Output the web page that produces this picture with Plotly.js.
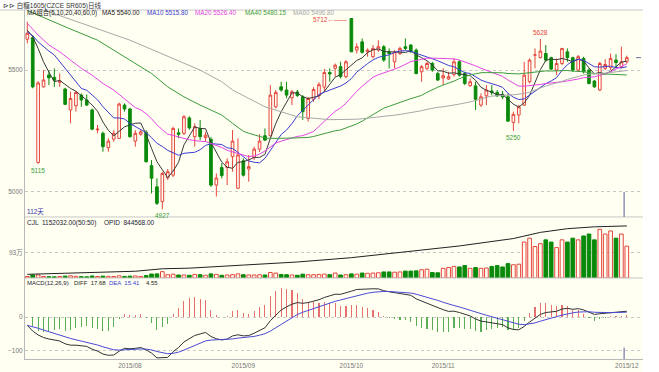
<!DOCTYPE html>
<html><head><meta charset="utf-8">
<script src="https://cdn.plot.ly/plotly-3.0.1.min.js"></script>
<style>html,body{margin:0;padding:0;background:#fff;} #chart{width:659px;height:372px;}</style>
</head><body><div id="chart"></div>
<script>
// ---------- data ----------
const openP  = [5627,5633,5120,5431,5480,5470,5450,5422,5336,5353,5397,5377,5336,5254,5240,5181,5216,5219,5356,5340,
                5208,5236,5244,5107,5020,4959,5057,5068,5242,5240,5303,5226,5260,5222,5215,5027,5099,5099,5144,5014,
                5127,5093,5140,5175,5230,5230,5349,5431,5418,5386,5410,5390,5301,5380,5395,5430,5490,5507,5514,5473,
                5712,5582,5616,5575,5555,5582,5596,5575,5534,5568,5596,5603,5582,5493,5507,5527,5486,5468,5463,5482,
                5534,5486,5436,5435,5356,5394,5414,5408,5400,5390,5285,5315,5356,5452,5562,5551,5568,5551,5500,5527,
                5575,5551,5500,5548,5500,5455,5418,5507,5510,5541,5514,5534];
const highP  = [5699,5644,5455,5500,5500,5507,5486,5427,5411,5414,5404,5400,5342,5274,5247,5219,5253,5366,5363,5345,
                5253,5253,5253,5130,5055,5082,5093,5267,5260,5315,5310,5281,5295,5245,5225,5075,5117,5137,5253,5219,
                5137,5151,5185,5236,5260,5438,5418,5452,5452,5418,5418,5397,5390,5430,5450,5505,5507,5527,5534,5541,
                5712,5610,5630,5589,5603,5623,5603,5589,5582,5596,5630,5606,5589,5520,5534,5534,5493,5507,5493,5548,
                5541,5493,5466,5452,5404,5438,5438,5418,5414,5404,5329,5356,5534,5548,5589,5628,5603,5555,5548,5589,
                5589,5555,5562,5555,5507,5459,5534,5545,5568,5565,5596,5559];
const lowP   = [5610,5425,5115,5428,5438,5431,5431,5356,5281,5329,5349,5353,5253,5240,5164,5164,5205,5216,5329,5222,
                5185,5230,5120,4993,4945,4927,5048,5060,5220,5233,5255,5185,5212,5205,5020,4980,5055,5027,5082,5011,
                5062,5041,5130,5164,5208,5226,5342,5411,5384,5356,5390,5295,5288,5370,5380,5410,5452,5473,5466,5466,
                5575,5568,5568,5555,5548,5575,5534,5507,5507,5562,5582,5572,5482,5452,5500,5493,5455,5438,5459,5473,
                5473,5438,5431,5336,5349,5356,5397,5390,5380,5288,5250,5281,5353,5445,5507,5548,5534,5500,5480,5520,
                5534,5493,5493,5486,5441,5427,5414,5500,5500,5507,5507,5527];
const closeP = [5651,5431,5447,5459,5468,5458,5455,5359,5383,5408,5377,5356,5257,5257,5185,5208,5240,5360,5340,5226,
                5240,5246,5123,5055,4952,5075,5082,5260,5236,5308,5262,5267,5226,5232,5027,5056,5066,5123,5208,5151,
                5068,5103,5175,5208,5212,5397,5408,5418,5397,5411,5395,5329,5383,5420,5440,5490,5484,5520,5473,5534,
                5575,5596,5573,5582,5589,5596,5541,5568,5575,5589,5589,5575,5486,5514,5527,5500,5459,5477,5473,5534,
                5479,5445,5452,5380,5390,5418,5407,5394,5390,5290,5318,5349,5479,5541,5562,5578,5541,5504,5527,5589,
                5551,5500,5555,5493,5445,5431,5527,5523,5548,5531,5534,5551];
const volume = [55000,110000,110000,55000,50000,45000,55000,70000,80000,60000,50000,45000,75000,55000,70000,60000,55000,80000,60000,
                70000,75000,55000,90000,145000,150000,230000,120000,140000,110000,110000,100000,130000,120000,100000,150000,130000,100000,110000,120000,150000,
                120000,110000,110000,120000,110000,200000,180000,130000,120000,110000,100000,140000,120000,120000,130000,140000,
                120000,180000,110000,120000,150000,140000,180000,170000,180000,190000,220000,220000,210000,220000,250000,250000,260000,300000,320000,200000,190000,
                350000,380000,420000,400000,450000,350000,380000,350000,360000,420000,450000,400000,520000,480000,500000,
                1300000,1440000,1140000,1240000,1380000,1300000,1100000,1380000,1300000,1440000,1380000,1520000,1590000,1380000,1760000,1590000,1700000,1440000,1590000,1152032];
const opidIdx = [0,10,20,25,30,40,50,60,70,80,90,95,100,105,111];
const opidVal = [60000,80000,110000,150000,160000,210000,260000,330000,420000,520000,640000,740000,800000,830000,844568];

// moving averages whose window starts before the first visible day
const ma5EarlyIdx  = [0,1,2,3];
const ma5EarlyVal  = [5664,5637,5589,5534];
const ma10EarlyIdx = [0,1,2,3,4,5,6,7,8];
const ma10EarlyVal = [5657,5641,5616,5596,5578,5562,5534,5507,5479];
const ma20EarlyIdx = [0,2,4,6,8,10,12,14,16,18];
const ma20EarlyVal = [5692,5644,5603,5575,5541,5507,5479,5445,5418,5383];
const ma40EarlyIdx = [0,4,7,13,19,23,26,29,32,36,38];
const ma40EarlyVal = [5745,5705,5678,5623,5541,5486,5431,5390,5356,5315,5281];
const ma60EarlyIdx = [0,4,10,19,26,32,36,38,44,50,56];
const ma60EarlyVal = [5770,5740,5693,5623,5555,5500,5452,5418,5349,5308,5296];
// MACD state before the first visible day (DIFF/DEA start near -25)
const macdSeed = {ema12: 5672, ema26: 5697, dea: -25};

const monthLabels = ["2015/08","2015/09","2015/10","2015/11","2015/12"];
const monthIdx    = [19, 40, 60, 77, 111];
const maNames  = ["MA5","MA10","MA20","MA40","MA60"];
const maPeriods = [5,10,20,40,60];
const maLegendValues = ["5540.00","5515.80","5526.40","5480.15","5496.80"];
const markIdx  = [2, 25, 60, 90, 95];
const markType = ["low","low","high","low","high"];

// ---------- derived ----------
const N = closeP.length;
const idx = closeP.map((_, i) => i);
function movingAverage(n, eIdx, eVal) {
  const xs = eIdx.slice(), ys = eVal.slice();
  for (let i = n - 1; i < N; i++) {
    let s = 0; for (let k = i - n + 1; k <= i; k++) s += closeP[k];
    xs.push(i); ys.push(s / n);
  }
  return {xs, ys};
}
const early = [[ma5EarlyIdx,ma5EarlyVal],[ma10EarlyIdx,ma10EarlyVal],[ma20EarlyIdx,ma20EarlyVal],[ma40EarlyIdx,ma40EarlyVal],[ma60EarlyIdx,ma60EarlyVal]];
const maColors = ["#3a3a3a","#3c3cd0","#e646e6","#3c9c3c","#a8a8a8"];

let e12 = macdSeed.ema12, e26 = macdSeed.ema26, dea = macdSeed.dea;
const diffArr = [], deaArr = [], histArr = [];
closeP.forEach(c => {
  e12 += (c - e12) * 2 / 13; e26 += (c - e26) * 2 / 27;
  const d = e12 - e26; dea += (d - dea) * 2 / 10;
  diffArr.push(d); deaArr.push(dea); histArr.push(2 * (d - dea));
});

const RED = "#e5453c", GREEN = "#0a8a0a", CREAM = "#fffff2";
const up = idx.map(i => closeP[i] >= openP[i]);

const traces = [];
traces.push({type:"candlestick", x: idx, open: openP, high: highP, low: lowP, close: closeP,
  xaxis:"x", yaxis:"y", whiskerwidth:0, hoverinfo:"skip",
  increasing:{line:{color:RED, width:1}, fillcolor:CREAM},
  decreasing:{line:{color:GREEN, width:1}, fillcolor:GREEN}});
maPeriods.forEach((p, k) => {
  const m = movingAverage(p, early[k][0], early[k][1]);
  traces.push({type:"scatter", mode:"lines", x:m.xs, y:m.ys, xaxis:"x", yaxis:"y",
    line:{color:maColors[k], width:1}, hoverinfo:"skip"});
});
traces.push({type:"bar", x: idx, y: volume, xaxis:"x", yaxis:"y2", width:0.68,
  marker:{color: up.map(u => u ? CREAM : GREEN), line:{color: up.map(u => u ? RED : GREEN), width:1}}, hoverinfo:"skip"});
traces.push({type:"scatter", mode:"lines", x: opidIdx, y: opidVal, xaxis:"x", yaxis:"y3",
  line:{color:"#222", width:1}, hoverinfo:"skip"});
traces.push({type:"bar", x: idx, y: histArr, xaxis:"x", yaxis:"y4", width:0.2,
  marker:{color: histArr.map(h => h >= 0 ? "#e67070" : "#5aae5a"), line:{width:0}}, hoverinfo:"skip"});
traces.push({type:"scatter", mode:"lines", x: idx, y: diffArr, xaxis:"x", yaxis:"y4", line:{color:"#333", width:1}, hoverinfo:"skip"});
traces.push({type:"scatter", mode:"lines", x: idx, y: deaArr, xaxis:"x", yaxis:"y4", line:{color:"#4a4ad6", width:1}, hoverinfo:"skip"});

// ---------- layout ----------
const FONT = "Liberation Sans, Noto Sans CJK SC, sans-serif";
const px = x => (x - 25) / 618, py = y => (359 - y) / 349;
function note(text, x, y, color, size) {
  return {text, x: px(x), y: py(y), xref:"paper", yref:"paper", xanchor:"left", yanchor:"middle",
    showarrow:false, borderpad:0, font:{family:FONT, size: size || 6, color}};
}
const anns = [];
anns.push(note("⊳⊳ 白糖1605(CZCE SR605)日线", 2, 5, "#333", 6.5));
const legendX = [101,146,194,244,292];
anns.push(note("MA组合(5,10,20,40,60,0)", 26, 13, "#222", 6.3));
maNames.forEach((n, k) => anns.push(note(n + " " + maLegendValues[k], legendX[k], 13, k === 0 ? "#222" : maColors[k], 6.3)));
anns.push(note("112天", 26, 212, "#3333aa", 6.5));
anns.push(note("CJL  1152032.00(50:50)", 26, 222.5, "#223", 6.5));
anns.push(note("OPID  844568.00", 103, 222.5, "#223", 6.5));
anns.push(note("MACD(12,26,9)", 26, 283, "#223", 6));
anns.push(note("DIFF  17.68", 73, 283, "#222", 6));
anns.push(note("DEA  15.41", 108, 283, "#3c3cd0", 6));
anns.push(note("4.55", 145, 283, "#222", 6));
markIdx.forEach((i, k) => {
  if (markType[k] === "low") {
    anns.push({x:i, y:lowP[i], xref:"x", yref:"y", text:String(lowP[i]), showarrow:false,
      yanchor:"top", yshift:-1, font:{family:FONT, size:6.5, color:"#3c9c3c"}});
  } else if (i === 60) {
    anns.push({x:i, y:highP[i], xref:"x", yref:"y", text:String(highP[i]) + "←——", showarrow:false,
      xanchor:"right", xshift:-2, yshift:-1, font:{family:FONT, size:6.5, color:RED}});
  } else {
    anns.push({x:i, y:highP[i], xref:"x", yref:"y", text:String(highP[i]), showarrow:false,
      yanchor:"bottom", yshift:1, font:{family:FONT, size:6.5, color:RED}});
  }
});

const axisFont = {family:FONT, size:6.5, color:"#777"};
const yCommon = {showgrid:true, gridcolor:"#c8c8c8", griddash:"dot", gridwidth:1, zeroline:false,
  showline:true, linecolor:"#b8b8b8", linewidth:1, ticks:"", tickfont:axisFont, fixedrange:true, anchor:"x"};
const layout = {
  width:659, height:372, margin:{l:25, r:16, t:10, b:13},
  paper_bgcolor:"#ffffff", plot_bgcolor:"rgba(0,0,0,0)", showlegend:false, bargap:0,
  xaxis:{range:[-0.43, 114], showgrid:false, zeroline:false, tickvals:monthIdx, ticktext:monthLabels,
    ticks:"", tickfont:axisFont, showline:true, linecolor:"#b8b8b8", anchor:"y4",
    rangeslider:{visible:false}, fixedrange:true},
  yaxis: Object.assign({}, yCommon, {domain:[0.407, 1], range:[4896, 5747], tickvals:[5000, 5500]}),
  yaxis2: Object.assign({}, yCommon, {domain:[0.232, 0.407], range:[0, 2207000], tickvals:[930000], ticktext:["93万"]}),
  yaxis3: {overlaying:"y2", range:[0, 990000], visible:false, fixedrange:true},
  yaxis4: Object.assign({}, yCommon, {domain:[0, 0.232], range:[-125.5, 116.6], tickvals:[0, -100]}),
  annotations: anns,
  shapes: [
    {type:"rect", xref:"paper", yref:"paper", x0:px(0), x1:1, y0:py(372), y1:1, fillcolor:CREAM, line:{width:0}, layer:"below"},
    {type:"line", xref:"paper", yref:"paper", x0:px(0), x1:1, y0:1, y1:1, line:{color:"#c8c8c8", width:1}},
    {type:"line", xref:"paper", yref:"paper", x0:0, x1:1, y0:0.407, y1:0.407, line:{color:"#c8c8c8", width:1}},
    {type:"line", xref:"paper", yref:"paper", x0:0, x1:1, y0:0.232, y1:0.232, line:{color:"#c8c8c8", width:1}},
    {type:"line", xref:"x", yref:"y domain", x0:N - 1.5, x1:N - 1.5, y0:0, y1:0.12, line:{color:"#5a5aa0", width:1}},
    {type:"line", xref:"x", yref:"y4 domain", x0:N - 1.5, x1:N - 1.5, y0:0, y1:0.14, line:{color:"#5a5aa0", width:1}},
    {type:"line", xref:"paper", yref:"y", x0:px(636), x1:px(641), y0:closeP[N - 1], y1:closeP[N - 1], line:{color:"#6a6ab0", width:1}}
  ]
};
Plotly.newPlot("chart", traces, layout, {staticPlot:true, displayModeBar:false});
</script>
</body></html>
